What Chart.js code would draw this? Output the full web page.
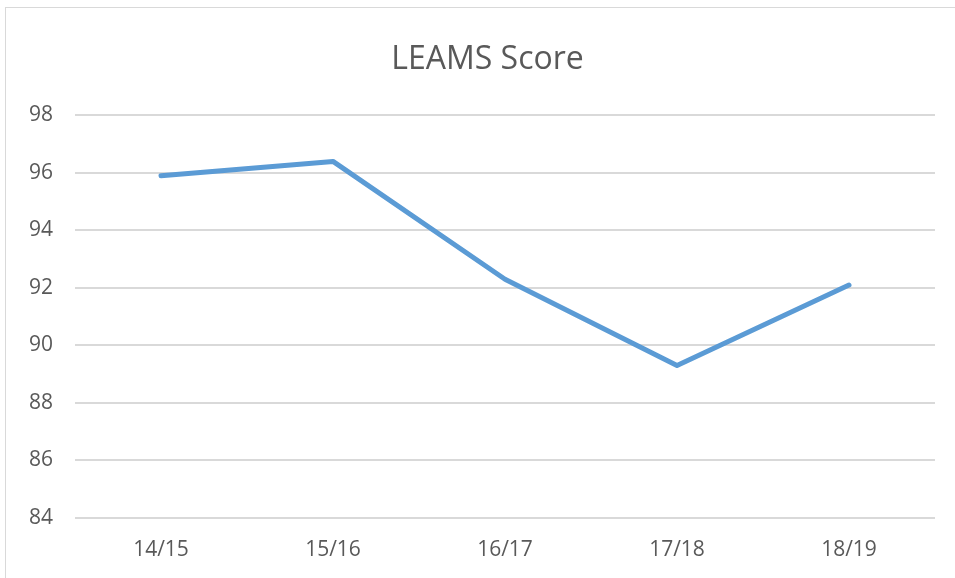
<!DOCTYPE html>
<html>
<head>
<meta charset="utf-8">
<script src="https://cdn.jsdelivr.net/npm/chart.js@4"></script>
<style>
  body { margin: 0; background: #fff; }
  .frame { position: absolute; left: 5px; top: 7px; width: 960px; height: 600px; border: 1px solid #d9d9d9; }
  .wrap { position: absolute; left: 0; top: 0; width: 935px; height: 578px; }
</style>
</head>
<body>
<div class="frame"></div>
<div class="wrap"><canvas id="chart"></canvas></div>
<script>
// data
const seasons = ["14/15", "15/16", "16/17", "17/18", "18/19"];
const scores = [95.9, 96.4, 92.3, 89.3, 92.1];
const yMin = 84, yMax = 98, yStep = 2;

const grey = "#595959";
const font = "'Open Sans', sans-serif";

// the title sits a bit right of the canvas middle in the original
const titleShift = {
  id: "titleShift",
  afterLayout(chart) {
    if (chart.titleBlock) chart.titleBlock.left += 40;
  }
};

new Chart(document.getElementById("chart"), {
  type: "line",
  data: {
    labels: seasons,
    datasets: [{
      label: "LEAMS Score",
      data: scores,
      borderColor: "#5b9bd5",
      borderWidth: 5,
      pointRadius: 0,
      borderCapStyle: "round",
      borderJoinStyle: "round",
      tension: 0
    }]
  },
  options: {
    responsive: true,
    maintainAspectRatio: false,
    animation: false,
    layout: { padding: { left: 0, right: 0, top: 0, bottom: 3 } },
    plugins: {
      legend: { display: false },
      tooltip: { enabled: false },
      title: {
        display: true,
        text: "LEAMS Score",
        color: grey,
        font: { family: font, size: 32, weight: "normal" },
        padding: { top: 41, bottom: 36 }
      }
    },
    scales: {
      x: {
        offset: true,
        grid: { display: false },
        border: { display: false },
        ticks: { color: grey, font: { family: font, size: 21 }, padding: 12 }
      },
      y: {
        min: yMin,
        max: yMax,
        grid: { color: "#d9d9d9", lineWidth: 2, drawTicks: false },
        border: { display: false },
        ticks: { stepSize: yStep, color: grey, font: { family: font, size: 21 }, padding: 22 },
        afterFit: (scale) => { scale.width = 75; }
      }
    }
  },
  plugins: [titleShift]
});
</script>
</body>
</html>
